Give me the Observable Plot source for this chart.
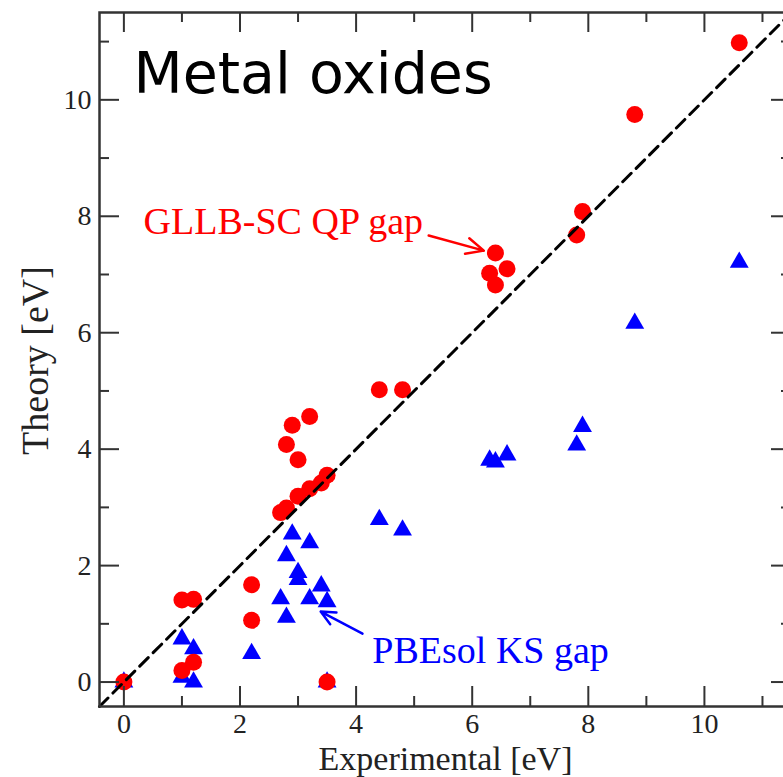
<!DOCTYPE html>
<html><head><meta charset="utf-8">
<script src="https://cdn.jsdelivr.net/npm/d3@7"></script>
<script src="https://cdn.jsdelivr.net/npm/@observablehq/plot@0.6"></script>
<style>
html,body{margin:0;padding:0;background:#fff;overflow:hidden;}
svg{max-width:none !important;}
</style>
</head><body><div id="chart"></div>
<script>
// GLLB-SC quasiparticle gaps (red circles)
const gllbX = [0, 1.0, 1.2, 1.0, 1.2, 2.2, 2.2, 3.5, 2.7, 2.8, 3.0, 3.2, 3.4, 3.5, 2.8, 2.9, 3.2, 3.0, 4.4, 4.8, 6.4, 6.3, 6.6, 6.4, 7.9, 7.8, 8.8, 10.6];
const gllbY = [0, 1.41, 1.42, 0.20, 0.34, 1.67, 1.06, 0, 2.91, 2.99, 3.19, 3.32, 3.42, 3.55, 4.08, 4.41, 4.56, 3.82, 5.02, 5.02, 7.37, 7.02, 7.10, 6.82, 8.08, 7.68, 9.75, 10.98];
// PBEsol Kohn-Sham gaps (blue triangles)
const pbesolX = [0, 1.0, 1.2, 1.0, 1.2, 2.2, 3.5, 2.7, 2.8, 3.2, 3.4, 3.5, 3.0, 3.0, 2.8, 2.9, 3.2, 4.4, 4.8, 6.3, 6.4, 6.6, 7.8, 7.9, 8.8, 10.6];
const pbesolY = [0, 0.74, 0.57, 0.08, 0.0, 0.49, 0, 1.43, 1.11, 1.43, 1.65, 1.38, 1.88, 1.76, 2.17, 2.54, 2.39, 2.79, 2.61, 3.81, 3.78, 3.90, 4.07, 4.39, 6.16, 7.21];

const majorTicks = [0, 2, 4, 6, 8, 10];
const minorTicks = [1, 3, 5, 7, 9, 11];
const xDomain = [-0.42, 11.5];
const yDomain = [-0.42, 11.5];
const diagonal = [-0.42, 11.5];

const titleText = "Metal oxides";
const xLabel = "Experimental [eV]";
const yLabel = "Theory [eV]";
const redLabel = {text: "GLLB-SC QP gap", x: 0.34, y: 7.7};
const blueLabel = {text: "PBEsol KS gap", x: 4.28, y: 0.335};
const redArrow = {x1: 5.25, y1: 7.67, x2: 6.20, y2: 7.41};
const blueArrow = {x1: 4.11, y1: 0.83, x2: 3.39, y2: 1.21};
const titlePos = {x: 0.165, y: 10.11};

const gllb = gllbX.map((x, i) => ({x, y: gllbY[i]}));
const pbesol = pbesolX.map((x, i) => ({x, y: pbesolY[i]}));

const W = 800, H = 777;
const mL = 99, mR = 9, mT = 12, mB = 71;
const fw = W - mL - mR, fh = H - mT - mB;
const axisColor = "#333";
const serif = "'Liberation Serif', 'Times New Roman', serif";
const RED = "#ff0000", BLUE = "#0000ff";

const chart = Plot.plot({
  width: W, height: H,
  marginLeft: mL, marginRight: mR, marginTop: mT, marginBottom: mB,
  x: {domain: xDomain},
  y: {domain: yDomain},
  style: {background: "#fff", fontFamily: serif, color: "#222", overflow: "visible"},
  marks: [
    Plot.dot(pbesol, {x: "x", y: "y", symbol: "triangle", r: 7, fill: BLUE, stroke: "none"}),
    Plot.dot(gllb, {x: "x", y: "y", r: 8.5, fill: RED, stroke: "none"}),
    Plot.line(diagonal, {x: d => d, y: d => d, stroke: "#000", strokeWidth: 3, strokeDasharray: "12,7"}),
    Plot.arrow([redArrow], {x1: "x1", y1: "y1", x2: "x2", y2: "y2", stroke: RED, strokeWidth: 2.5, headLength: 15, headAngle: 50}),
    Plot.arrow([blueArrow], {x1: "x1", y1: "y1", x2: "x2", y2: "y2", stroke: BLUE, strokeWidth: 2.5, headLength: 15, headAngle: 50}),
    Plot.text([redLabel], {x: "x", y: "y", text: "text", textAnchor: "start", lineAnchor: "bottom", fontSize: 38, fill: RED, fontFamily: serif}),
    Plot.text([blueLabel], {x: "x", y: "y", text: "text", textAnchor: "start", lineAnchor: "bottom", fontSize: 38, fill: BLUE, fontFamily: serif}),
    Plot.text([titleText], {x: () => titlePos.x, y: () => titlePos.y, text: d => d, textAnchor: "start", lineAnchor: "bottom", fontSize: 57, fill: "#000", fontFamily: "'DejaVu Sans', Verdana, sans-serif"}),
    // inward ticks on all four sides
    Plot.tickX(majorTicks, {x: d => d, insetTop: fh - 20, stroke: axisColor, strokeWidth: 2}),
    Plot.tickX(majorTicks, {x: d => d, insetBottom: fh - 20, stroke: axisColor, strokeWidth: 2}),
    Plot.tickX(minorTicks, {x: d => d, insetTop: fh - 10, stroke: axisColor, strokeWidth: 2}),
    Plot.tickX(minorTicks, {x: d => d, insetBottom: fh - 10, stroke: axisColor, strokeWidth: 2}),
    Plot.tickY(majorTicks, {y: d => d, insetRight: fw - 20, stroke: axisColor, strokeWidth: 2}),
    Plot.tickY(majorTicks, {y: d => d, insetLeft: fw - 20, stroke: axisColor, strokeWidth: 2}),
    Plot.tickY(minorTicks, {y: d => d, insetRight: fw - 10, stroke: axisColor, strokeWidth: 2}),
    Plot.tickY(minorTicks, {y: d => d, insetLeft: fw - 10, stroke: axisColor, strokeWidth: 2}),
    Plot.frame({stroke: axisColor, strokeWidth: 2.5}),
    Plot.axisX({ticks: majorTicks, tickSize: 0, tickPadding: 7, fontSize: 28, label: null, tickFormat: d => String(d)}),
    Plot.axisY({ticks: majorTicks, tickSize: 0, tickPadding: 8, fontSize: 28, label: null, tickFormat: d => String(d)}),
    Plot.text([xLabel], {frameAnchor: "bottom", textAnchor: "middle", dy: 63.5, lineAnchor: "bottom", text: d => d, fontSize: 34, fill: "#222"}),
    Plot.text([yLabel], {frameAnchor: "left", textAnchor: "middle", rotate: -90, dx: -52, dy: 1, lineAnchor: "bottom", text: d => d, fontSize: 38, fill: "#222"})
  ]
});
document.getElementById("chart").appendChild(chart);
</script>
</body></html>
